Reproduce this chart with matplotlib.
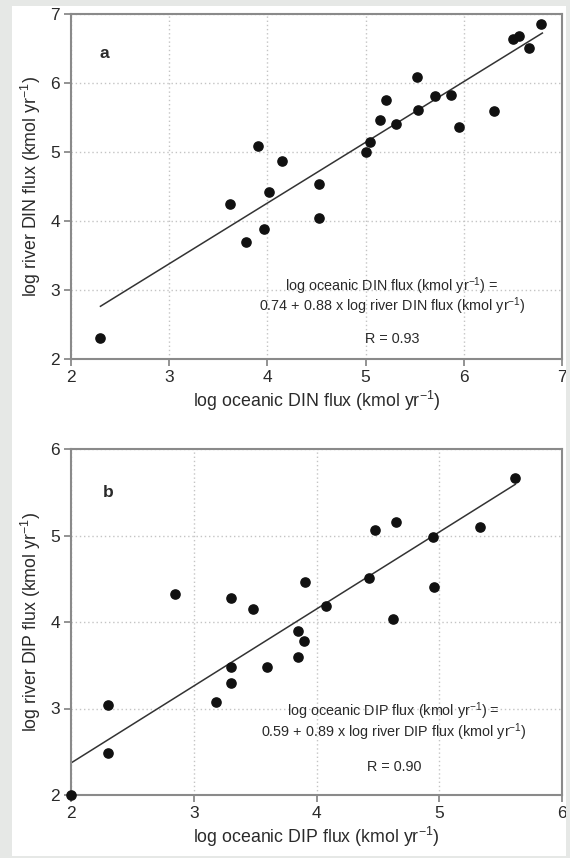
import numpy as np
import matplotlib
matplotlib.use('Agg')
import matplotlib.pyplot as plt
from matplotlib.patches import Rectangle

plt.rcParams['font.family'] = ['Liberation Sans', 'DejaVu Sans']
plt.rcParams['mathtext.default'] = 'regular'

# panel a: DIN
din_ocean = [2.30, 3.62, 3.78, 3.90, 3.97, 4.02, 4.15, 4.53, 4.53, 5.00, 5.04, 5.15,
             5.21, 5.31, 5.52, 5.53, 5.71, 5.87, 5.95, 6.31, 6.50, 6.56, 6.66, 6.79]
din_river = [2.30, 4.25, 3.70, 5.09, 3.89, 4.42, 4.87, 4.54, 4.04, 5.00, 5.14, 5.46,
             5.76, 5.40, 6.09, 5.61, 5.81, 5.82, 5.36, 5.59, 6.64, 6.68, 6.51, 6.85]
din_fit = (0.74, 0.88)  # intercept, slope
din_fit_range = (2.30, 6.80)
din_r = 0.93

# panel b: DIP
dip_ocean = [2.00, 2.30, 2.30, 2.85, 3.30, 3.30, 3.30, 3.18, 3.48, 3.60, 3.85, 3.90,
             3.85, 3.91, 4.08, 4.43, 4.48, 4.65, 4.62, 4.95, 4.96, 5.33, 5.62]
dip_river = [2.00, 3.04, 2.48, 4.32, 4.28, 3.48, 3.30, 3.08, 4.15, 3.48, 3.90, 3.78,
             3.60, 4.46, 4.18, 4.51, 5.06, 5.16, 4.04, 4.98, 4.40, 5.10, 5.66]
dip_fit = (0.59, 0.89)
dip_fit_range = (2.00, 5.62)
dip_r = 0.90

sup = r'$^{\mathregular{-1}}$'
gray = '#8a8a8a'
txt = '#2a2a2a'

fig = plt.figure(figsize=(5.70, 8.58), dpi=100)
fig.patch.set_facecolor('white')

# light gray frame round the white page
for r in [(0, 0, 12/570, 1), (566/570, 0, 4/570, 1), (0, 1-6/858, 1, 6/858), (0, 0, 1, 2/858)]:
    fig.patches.append(Rectangle(r[:2], r[2], r[3], transform=fig.transFigure,
                                 facecolor='#e6e8e6', edgecolor='none', zorder=10))

ax_a = fig.add_axes([71/570, 1-359/858, 491/570, 345/858])
ax_b = fig.add_axes([71/570, 1-795/858, 491/570, 346/858])


def style(ax, lim):
    ax.set_xlim(*lim)
    ax.set_ylim(*lim)
    ax.set_xticks(np.arange(lim[0], lim[1]+1))
    ax.set_yticks(np.arange(lim[0], lim[1]+1))
    ax.grid(True, color='#c4c4c4', linestyle=(0, (1, 2)), linewidth=1)
    ax.set_axisbelow(True)
    for s in ax.spines.values():
        s.set_color(gray)
        s.set_linewidth(1.5)
    ax.tick_params(direction='out', length=5, width=1.3, color=gray,
                   labelsize=12.5, labelcolor=txt, pad=3)


def panel(ax, x, y, fit, rng, r, lim, name, letter, lpos, tx, ty):
    style(ax, lim)
    ax.scatter(x, y, s=44, color='#111111', zorder=3, clip_on=False)
    xf = np.array(rng)
    ax.plot(xf, fit[0] + fit[1]*xf, color='#333333', lw=1.1, zorder=2)
    ax.text(lpos[0], lpos[1], letter, fontsize=12.5, fontweight='bold', color=txt,
            ha='center', va='center')
    lines = ['log oceanic %s flux (kmol yr%s) =' % (name, sup),
             '%.2f + %.2f x log river %s flux (kmol yr%s)' % (fit[0], fit[1], name, sup),
             'R = %.2f' % r]
    for t, yy in zip(lines, ty):
        ax.text(tx, yy, t, fontsize=10.4, color=txt, ha='center', va='center')
    ax.set_xlabel('log oceanic %s flux (kmol yr%s)' % (name, sup), fontsize=12.8,
                  color=txt, labelpad=3)
    ax.set_ylabel('log river %s flux (kmol yr%s)' % (name, sup), fontsize=12.8,
                  color=txt, labelpad=5)


panel(ax_a, din_ocean, din_river, din_fit, din_fit_range, din_r, (2, 7), 'DIN', 'a',
      (2.34, 6.43), 5.27, (3.06, 2.76, 2.29))

panel(ax_b, dip_ocean, dip_river, dip_fit, dip_fit_range, dip_r, (2, 6), 'DIP', 'b',
      (2.30, 5.50), 4.63, (2.965, 2.725, 2.32))

fig.savefig('out.png', dpi=100)
